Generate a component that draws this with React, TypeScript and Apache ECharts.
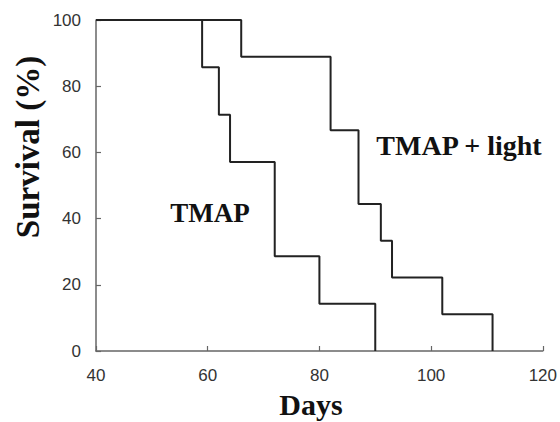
import React, { useEffect, useRef } from "react";
import * as echarts from "echarts";

const xTicks = [40, 60, 80, 100, 120];
const yTicks = [0, 20, 40, 60, 80, 100];
const tmapDays = [40, 59, 62, 64, 72, 80, 90];
const tmapSurvival = [100, 85.7, 71.4, 57.1, 28.6, 14.3, 0];
const lightDays = [40, 66, 82, 87, 91, 93, 102, 111];
const lightSurvival = [100, 88.9, 66.7, 44.4, 33.3, 22.2, 11.1, 0];
const seriesNames = ["TMAP", "TMAP + light"];
const xTitle = "Days";
const yTitle = "Survival (%)";

export default function App() {
  const ref = useRef<HTMLDivElement>(null);
  useEffect(() => {
    document.body.style.margin = "0";
    const chart = echarts.init(ref.current!, undefined, { renderer: "svg" });
    const serif = "Liberation Serif, Times New Roman, serif";
    const sans = "Liberation Sans, Arial, sans-serif";
    const axisCommon = {
      splitLine: { show: false },
      axisLine: { show: true, lineStyle: { color: "#666", width: 1.5 } },
      axisTick: { show: true, inside: true, length: 5, lineStyle: { color: "#666", width: 1.2 } },
      axisLabel: { color: "#333", fontFamily: sans, fontSize: 17 },
    };
    chart.setOption({
      animation: false,
      backgroundColor: "#fff",
      grid: { left: 96, right: 17, top: 20, bottom: 71, containLabel: false },
      xAxis: {
        type: "value",
        min: xTicks[0],
        max: xTicks[xTicks.length - 1],
        interval: xTicks[1] - xTicks[0],
        ...axisCommon,
        axisLabel: { ...axisCommon.axisLabel, margin: 16 },
      },
      yAxis: {
        type: "value",
        min: yTicks[0],
        max: yTicks[yTicks.length - 1],
        interval: yTicks[1] - yTicks[0],
        ...axisCommon,
        axisLabel: { ...axisCommon.axisLabel, margin: 15 },
      },
      series: [
        {
          name: seriesNames[0],
          type: "line",
          step: "end",
          symbol: "none",
          lineStyle: { color: "#222", width: 2 },
          data: tmapDays.map((d, i) => [d, tmapSurvival[i]]),
        },
        {
          name: seriesNames[1],
          type: "line",
          step: "end",
          symbol: "none",
          lineStyle: { color: "#222", width: 2 },
          data: lightDays.map((d, i) => [d, lightSurvival[i]]),
        },
      ],
      graphic: [
        {
          type: "text",
          x: 28,
          y: 147,
          rotation: Math.PI / 2,
          style: { text: yTitle, font: `bold 33px ${serif}`, fill: "#111", textAlign: "center", textVerticalAlign: "middle" },
        },
        {
          type: "text",
          x: 311,
          y: 404,
          style: { text: xTitle, font: `bold 30px ${serif}`, fill: "#111", textAlign: "center", textVerticalAlign: "middle" },
        },
        {
          type: "text",
          x: 210,
          y: 213,
          style: { text: seriesNames[0], font: `bold 27px ${serif}`, fill: "#111", textAlign: "center", textVerticalAlign: "middle" },
        },
        {
          type: "text",
          x: 459,
          y: 145,
          style: { text: seriesNames[1], font: `bold 28px ${serif}`, fill: "#111", textAlign: "center", textVerticalAlign: "middle" },
        },
      ],
    });
    return () => chart.dispose();
  }, []);
  return <div ref={ref} style={{ width: 560, height: 422, position: "fixed", left: 0, top: 0 }} />;
}
